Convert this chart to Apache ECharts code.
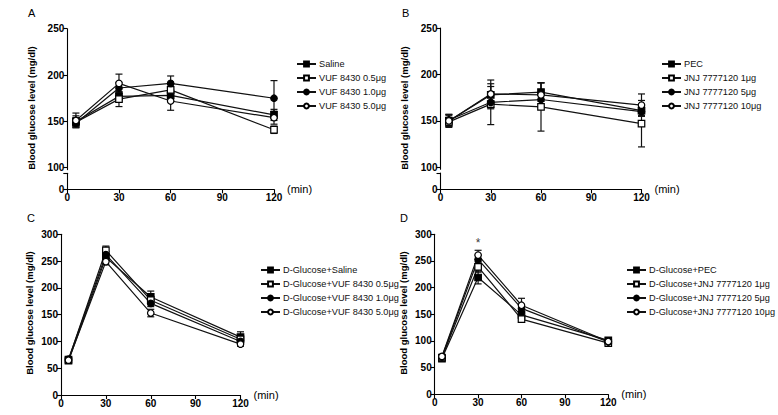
<!DOCTYPE html>
<html>
<head>
<meta charset="utf-8">
<script src="https://cdn.jsdelivr.net/npm/echarts@6/dist/echarts.min.js"></script>
<style>
  html, body { margin: 0; padding: 0; background: #fff; }
  #main { width: 778px; height: 415px; }
</style>
</head>
<body>
<div id="main"></div>
<script>
// time points (min)
var times = [5, 30, 60, 120];

// A: VUF 8430
var aSaline = [150, 177, 178, 157];
var aSalineErr = [6, 5, 6, 6];
var aVuf05 = [149, 174, 184, 141];
var aVuf05Err = [5, 8, 7, 4];
var aVuf10 = [148, 186, 191, 175];
var aVuf10Err = [4, 6, 8, 19];
var aVuf50 = [151, 191, 172, 154];
var aVuf50Err = [8, 10, 10, 7];

// B: JNJ 7777120
var bPec = [150, 178, 181, 161];
var bPecErr = [6, 9, 10, 5];
var bJnj1 = [149, 168, 165, 147];
var bJnj1Err = [5, 22, 26, 25];
var bJnj5 = [151, 170, 173, 160];
var bJnj5Err = [6, 7, 8, 5];
var bJnj10 = [150, 179, 178, 167];
var bJnj10Err = [7, 15, 13, 12];

// C: D-Glucose + VUF 8430
var cSaline = [64, 257, 183, 108];
var cSalineErr = [4, 7, 11, 10];
var cVuf05 = [66, 270, 177, 104];
var cVuf05Err = [3, 8, 7, 6];
var cVuf10 = [67, 262, 171, 100];
var cVuf10Err = [3, 6, 6, 5];
var cVuf50 = [65, 249, 153, 95];
var cVuf50Err = [4, 6, 7, 4];

// D: D-Glucose + JNJ 7777120
var dPec = [67, 219, 149, 101];
var dPecErr = [4, 12, 7, 5];
var dJnj1 = [69, 239, 141, 96];
var dJnj1Err = [3, 10, 6, 4];
var dJnj5 = [70, 253, 161, 98];
var dJnj5Err = [3, 8, 7, 4];
var dJnj10 = [71, 261, 167, 99];
var dJnj10Err = [3, 9, 13, 4];

var yTicksAB = [100, 150, 200, 250];

var FONT = '"Liberation Sans", Arial, sans-serif';
var yTitle = 'Blood glucose level (mg/dl)';

// marker styles: filled square, open square, filled circle, open circle
var markers = [
  {symbol: 'rect', fill: '#000'},
  {symbol: 'rect', fill: '#fff'},
  {symbol: 'circle', fill: '#000'},
  {symbol: 'circle', fill: '#fff'}
];

function errRender(params, api) {
  var x = api.value(0);
  var top = api.coord([x, api.value(2)]);
  var bot = api.coord([x, api.value(1)]);
  var w = 3.5;
  var st = {stroke: '#111', lineWidth: 1.2};
  return {
    type: 'group',
    children: [
      {type: 'line', shape: {x1: top[0], y1: top[1], x2: bot[0], y2: bot[1]}, style: st},
      {type: 'line', shape: {x1: top[0] - w, y1: top[1], x2: top[0] + w, y2: top[1]}, style: st},
      {type: 'line', shape: {x1: bot[0] - w, y1: bot[1], x2: bot[0] + w, y2: bot[1]}, style: st}
    ]
  };
}

var series = [];
function addGroup(name, vals, errs, k, axisIdx) {
  var errData = [];
  var lineData = [];
  for (var i = 0; i < times.length; i++) {
    lineData.push([times[i], vals[i]]);
    errData.push([times[i], vals[i] - errs[i], vals[i] + errs[i]]);
  }
  series.push({
    type: 'custom',
    xAxisIndex: axisIdx, yAxisIndex: axisIdx,
    renderItem: errRender,
    encode: {x: 0, y: [1, 2]},
    data: errData,
    z: 1,
    silent: true
  });
  series.push({
    name: name,
    type: 'line',
    xAxisIndex: axisIdx, yAxisIndex: axisIdx,
    data: lineData,
    symbol: markers[k].symbol,
    symbolSize: 6.5,
    showAllSymbol: true,
    color: '#000',
    lineStyle: {color: '#111', width: 1.2},
    itemStyle: {color: markers[k].fill, borderColor: '#000', borderWidth: 1.2},
    z: 3
  });
}

addGroup('Saline', aSaline, aSalineErr, 0, 0);
addGroup('VUF 8430 0.5μg', aVuf05, aVuf05Err, 1, 0);
addGroup('VUF 8430 1.0μg', aVuf10, aVuf10Err, 2, 0);
addGroup('VUF 8430 5.0μg', aVuf50, aVuf50Err, 3, 0);

addGroup('PEC', bPec, bPecErr, 0, 2);
addGroup('JNJ 7777120 1μg', bJnj1, bJnj1Err, 1, 2);
addGroup('JNJ 7777120 5μg', bJnj5, bJnj5Err, 2, 2);
addGroup('JNJ 7777120 10μg', bJnj10, bJnj10Err, 3, 2);

addGroup('D-Glucose+Saline', cSaline, cSalineErr, 0, 4);
addGroup('D-Glucose+VUF 8430 0.5μg', cVuf05, cVuf05Err, 1, 4);
addGroup('D-Glucose+VUF 8430 1.0μg', cVuf10, cVuf10Err, 2, 4);
addGroup('D-Glucose+VUF 8430 5.0μg', cVuf50, cVuf50Err, 3, 4);

addGroup('D-Glucose+PEC', dPec, dPecErr, 0, 5);
addGroup('D-Glucose+JNJ 7777120 1μg', dJnj1, dJnj1Err, 1, 5);
addGroup('D-Glucose+JNJ 7777120 5μg', dJnj5, dJnj5Err, 2, 5);
addGroup('D-Glucose+JNJ 7777120 10μg', dJnj10, dJnj10Err, 3, 5);

// significance mark on D at 30 min
series.push({
  type: 'scatter',
  xAxisIndex: 5, yAxisIndex: 5,
  data: [[30, 284]],
  symbolSize: 1,
  itemStyle: {color: 'rgba(0,0,0,0)'},
  label: {show: true, position: 'inside', formatter: '*', color: '#000', fontSize: 12, fontFamily: FONT},
  silent: true
});

var tickLabel = {color: '#000', fontSize: 10, fontWeight: 'bold', fontFamily: FONT, margin: 3};
var axLine = {lineStyle: {color: '#000', width: 1.1}};
var axTick = {length: 4, lineStyle: {color: '#000', width: 1.1}};

function xAxisShown(grid) {
  return {
    type: 'value', gridIndex: grid, min: 0, max: 120, interval: 30,
    axisLine: axLine, axisTick: axTick, splitLine: {show: false},
    axisLabel: tickLabel,
    name: '(min)', nameLocation: 'end', nameGap: 13,
    nameTextStyle: {color: '#000', fontSize: 11, fontFamily: FONT, padding: [6, 0, 0, 0]}
  };
}
function xAxisHidden(grid) {
  return {type: 'value', gridIndex: grid, min: 0, max: 120, show: false, splitLine: {show: false}};
}
function yUpper(grid) {
  return {
    type: 'value', gridIndex: grid, min: 98, max: 250,
    axisLine: {show: true, lineStyle: {color: '#000', width: 1.1}},
    axisTick: {show: true, length: 4, customValues: yTicksAB, lineStyle: {color: '#000', width: 1.1}},
    axisLabel: Object.assign({customValues: yTicksAB}, tickLabel),
    splitLine: {show: false}
  };
}
function yLower(grid) {
  return {
    type: 'value', gridIndex: grid, min: 0, max: 10,
    axisLine: {show: true, lineStyle: {color: '#000', width: 1.1}},
    axisTick: {show: true, length: 4, customValues: [0, 10], lineStyle: {color: '#000', width: 1.1}},
    axisLabel: Object.assign({customValues: [0]}, tickLabel),
    splitLine: {show: false}
  };
}
function yFull(grid) {
  return {
    type: 'value', gridIndex: grid, min: 0, max: 300, interval: 50,
    axisLine: {show: true, lineStyle: {color: '#000', width: 1.1}},
    axisTick: axTick, axisLabel: tickLabel, splitLine: {show: false}
  };
}

function legendAt(left, top, names) {
  return {
    orient: 'vertical', left: left, top: top,
    itemWidth: 19, itemHeight: 6, itemGap: 0,
    selectedMode: false,
    textStyle: {color: '#111', fontSize: 9.2, fontFamily: FONT, lineHeight: 14, padding: [0, 0, 0, -2]},
    data: names
  };
}

function vTitle(x, y) {
  return {
    type: 'text', x: x, y: y, rotation: Math.PI / 2,
    style: {text: yTitle, font: 'bold 9.5px ' + FONT, fill: '#000', align: 'center', verticalAlign: 'middle'}
  };
}
function letter(x, y, t) {
  return {type: 'text', x: x, y: y, style: {text: t, font: '11px ' + FONT, fill: '#000', align: 'left', verticalAlign: 'middle'}};
}

var option = {
  backgroundColor: '#fff',
  animation: false,
  grid: [
    {left: 67.3, top: 28.7, width: 206.7, height: 140.9, outerBoundsMode: 'none'},
    {left: 67.3, top: 173.3, width: 206.7, height: 16, outerBoundsMode: 'none'},
    {left: 440.5, top: 28, width: 201, height: 141.2, outerBoundsMode: 'none'},
    {left: 440.5, top: 173, width: 201, height: 16.3, outerBoundsMode: 'none'},
    {left: 61, top: 234.3, width: 179.5, height: 160.7, outerBoundsMode: 'none'},
    {left: 434.7, top: 234.3, width: 173.6, height: 160, outerBoundsMode: 'none'}
  ],
  xAxis: [xAxisHidden(0), xAxisShown(1), xAxisHidden(2), xAxisShown(3), xAxisShown(4), xAxisShown(5)],
  yAxis: [yUpper(0), yLower(1), yUpper(2), yLower(3), yFull(4), yFull(5)],
  legend: [
    legendAt(291, 52, ['Saline', 'VUF 8430 0.5μg', 'VUF 8430 1.0μg', 'VUF 8430 5.0μg']),
    legendAt(656, 52, ['PEC', 'JNJ 7777120 1μg', 'JNJ 7777120 5μg', 'JNJ 7777120 10μg']),
    legendAt(255, 258, ['D-Glucose+Saline', 'D-Glucose+VUF 8430 0.5μg', 'D-Glucose+VUF 8430 1.0μg', 'D-Glucose+VUF 8430 5.0μg']),
    legendAt(621, 258, ['D-Glucose+PEC', 'D-Glucose+JNJ 7777120 1μg', 'D-Glucose+JNJ 7777120 5μg', 'D-Glucose+JNJ 7777120 10μg'])
  ],
  graphic: [
    letter(28, 13, 'A'), letter(402, 13, 'B'), letter(27, 218, 'C'), letter(400, 218, 'D'),
    vTitle(31, 108), vTitle(404, 108), vTitle(29, 313), vTitle(403, 313)
  ],
  series: series
};

var chart = echarts.init(document.getElementById('main'), null, {renderer: 'svg'});
chart.setOption(option);
</script>
</body>
</html>
